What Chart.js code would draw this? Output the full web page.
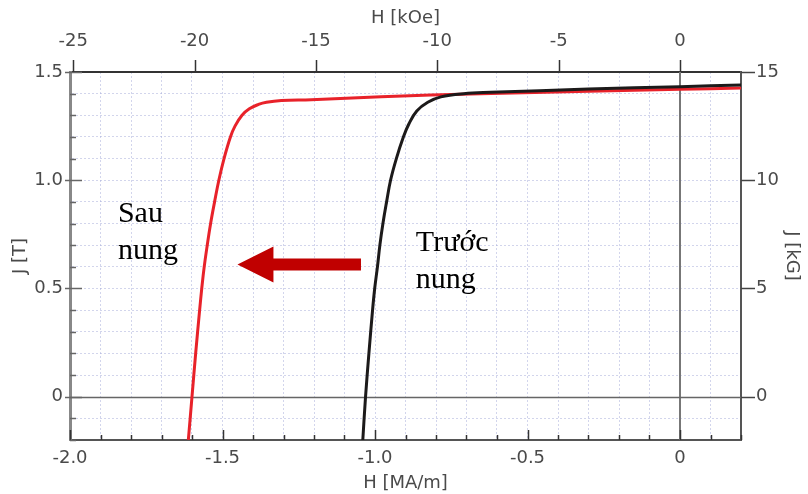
<!DOCTYPE html>
<html><head><meta charset="utf-8">
<script src="https://cdn.jsdelivr.net/npm/chart.js@4"></script>
<style>html,body{margin:0;padding:0;background:#fff}#wrap{width:808px;height:494px}</style>
</head><body><div id="wrap"><canvas id="c" width="808" height="494"></canvas></div>
<script>
// ---- data (H in MA/m, J in T) ----
const hAfter  = [-1.612,-1.600,-1.588,-1.575,-1.568,-1.560,-1.550,-1.539,-1.526,-1.512,-1.495,-1.474,-1.459,-1.436,-1.412,-1.382,-1.356,-1.307,-1.209,-0.980,-0.654,-0.300,0.000,0.200];
const jAfter  = [-0.200, 0.000, 0.200, 0.400, 0.500, 0.600, 0.700, 0.800, 0.900, 1.000, 1.100, 1.200, 1.250, 1.300, 1.330, 1.350, 1.360, 1.368, 1.372, 1.386, 1.400, 1.411,1.420,1.426];
const hBefore = [-1.040,-1.031,-1.020,-1.008,-1.001,-0.992,-0.984,-0.974,-0.962,-0.949,-0.930,-0.907,-0.889,-0.863,-0.827,-0.784,-0.709,-0.621,-0.300,0.000,0.200];
const jBefore = [-0.200, 0.000, 0.200, 0.400, 0.500, 0.600, 0.700, 0.800, 0.900, 1.000, 1.100, 1.200, 1.260, 1.320, 1.360, 1.385, 1.400, 1.406, 1.421,1.432,1.440];
const seriesNames = ['Sau nung','Trước nung'];

const hTickValues = [-2.0,-1.5,-1.0,-0.5,0];
const hTickLabels = ['-2.0','-1.5','-1.0','-0.5','0'];
const kOeTickValues = [-25,-20,-15,-10,-5,0];
const kOeTickLabels = ['-25','-20','-15','-10','-5','0'];
const jTickValues = [0,0.5,1.0,1.5];
const jTickLabels = ['0','0.5','1.0','1.5'];
const kGTickValues = [0,5,10,15];
const kGTickLabels = ['0','5','10','15'];

// annotation anchors (data coordinates)
const arrowTail = {h:-1.046, j:0.611};
const arrowTip  = {h:-1.451, j:0.611};
const notes = [
  {lines:['Sau','nung'],   h:-1.843, j:0.806},
  {lines:['Trước','nung'], h:-0.866, j:0.672}
];

const KOE_PER_MAM = 4*Math.PI;   // 1 MA/m = 4π kOe
const KG_PER_T = 10;

const labelFont = {family:'"DejaVu Sans", Verdana, sans-serif', size:18};
const textColor = '#4a4a4a';
const gridColor = 'rgba(165,172,218,0.5)';

function pick(values, labels){
  return v => { for (let i=0;i<values.length;i++) if (Math.abs(v-values[i])<1e-6) return labels[i]; return ''; };
}
const toPts = (hs, js) => hs.map((h,i)=>({x:h, y:js[i]}));

const decor = {
  id:'decor',
  beforeDatasetsDraw(chart){
    const {ctx, chartArea:a, scales:{x,y}} = chart;
    ctx.save();
    const x0 = Math.round(x.getPixelForValue(0));
    ctx.strokeStyle='#777'; ctx.lineWidth=2;
    ctx.beginPath(); ctx.moveTo(x0,a.top); ctx.lineTo(x0,a.bottom); ctx.stroke();
    const y0 = Math.round(y.getPixelForValue(0))+0.5;
    ctx.strokeStyle='#666'; ctx.lineWidth=1.5;
    ctx.beginPath(); ctx.moveTo(a.left,y0); ctx.lineTo(a.right,y0); ctx.stroke();
    ctx.restore();
  },
  afterDraw(chart){
    const {ctx, chartArea:a, scales:{x,x2,y,y2}} = chart;
    ctx.save();
    ctx.lineWidth=1.5;
    ctx.strokeStyle='#333';
    x.ticks.forEach(t=>{
      const px = Math.round(x.getPixelForValue(t.value))+0.5;
      const major = Math.abs(t.value*2-Math.round(t.value*2))<1e-6;
      ctx.beginPath(); ctx.moveTo(px,a.bottom); ctx.lineTo(px,a.bottom-(major?10:5)); ctx.stroke();
    });
    ctx.strokeStyle='#666';
    y.ticks.forEach(t=>{
      const py = Math.round(y.getPixelForValue(t.value))+0.5;
      const major = Math.abs(t.value*2-Math.round(t.value*2))<1e-6;
      ctx.beginPath();
      if (major){ ctx.moveTo(a.left-5,py); ctx.lineTo(a.left+12,py); }
      else { ctx.moveTo(a.left,py); ctx.lineTo(a.left+6,py); }
      ctx.stroke();
    });
    ctx.strokeStyle='#333';
    x2.ticks.forEach(t=>{
      const px = Math.round(x2.getPixelForValue(t.value))+0.5;
      ctx.beginPath(); ctx.moveTo(px,a.top); ctx.lineTo(px,a.top-12); ctx.stroke();
    });
    ctx.strokeStyle='#444';
    y2.ticks.forEach(t=>{
      const py = Math.round(y2.getPixelForValue(t.value))+0.5;
      ctx.beginPath(); ctx.moveTo(a.right,py); ctx.lineTo(a.right+14,py); ctx.stroke();
    });
    const tx = x.getPixelForValue(arrowTail.h), ty = y.getPixelForValue(arrowTail.j);
    const hx = x.getPixelForValue(arrowTip.h),  hy = y.getPixelForValue(arrowTip.j);
    const headLen = 36, headHalf = 18, shaftHalf = 6;
    ctx.fillStyle='#c00000';
    ctx.beginPath();
    ctx.moveTo(tx, ty-shaftHalf);
    ctx.lineTo(hx+headLen, hy-shaftHalf);
    ctx.lineTo(hx+headLen, hy-headHalf);
    ctx.lineTo(hx, hy);
    ctx.lineTo(hx+headLen, hy+headHalf);
    ctx.lineTo(hx+headLen, hy+shaftHalf);
    ctx.lineTo(tx, ty+shaftHalf);
    ctx.closePath(); ctx.fill();
    ctx.fillStyle='#000';
    ctx.font='30px "Liberation Serif", "Times New Roman", serif';
    ctx.textAlign='left'; ctx.textBaseline='alphabetic';
    notes.forEach(n=>{
      const px = x.getPixelForValue(n.h), py = y.getPixelForValue(n.j);
      n.lines.forEach((l,i)=>ctx.fillText(l, px, py+i*37));
    });
    ctx.restore();
  }
};

new Chart(document.getElementById('c'), {
  type:'scatter',
  data:{ datasets:[
    {label:seriesNames[1], data:toPts(hBefore,jBefore), showLine:true, borderColor:'#1c1a1a', borderWidth:3, pointRadius:0, tension:0.4, xAxisID:'x', yAxisID:'y'},
    {label:seriesNames[0], data:toPts(hAfter,jAfter), showLine:true, borderColor:'#e8222a', borderWidth:3, pointRadius:0, tension:0.4, xAxisID:'x', yAxisID:'y'}
  ]},
  options:{
    responsive:false, animation:false, devicePixelRatio:1,
    layout:{padding:0},
    plugins:{legend:{display:false}, tooltip:{enabled:false}},
    scales:{
      x:{type:'linear', position:'bottom', min:-2.0, max:0.2,
        ticks:{stepSize:0.1, includeBounds:false, autoSkip:false, maxRotation:0, minRotation:0, font:labelFont, color:textColor, padding:8, callback:pick(hTickValues,hTickLabels)},
        grid:{color:c=>Math.abs(c.tick.value)<1e-6?'rgba(0,0,0,0)':gridColor, lineWidth:1, drawTicks:false},
        border:{display:true, color:'#555', width:2, dash:[2,2]},
        title:{display:true, text:'H [MA/m]', font:labelFont, color:textColor, padding:{top:0,bottom:0}},
        afterFit:s=>{s.height=54;}
      },
      x2:{type:'linear', position:'top', min:-2.0*KOE_PER_MAM, max:0.2*KOE_PER_MAM,
        ticks:{stepSize:5, includeBounds:false, autoSkip:false, maxRotation:0, minRotation:0, font:labelFont, color:textColor, padding:20, callback:pick(kOeTickValues,kOeTickLabels)},
        grid:{drawOnChartArea:false, drawTicks:false},
        border:{display:true, color:'#333', width:2},
        title:{display:true, text:'H [kOe]', font:labelFont, color:textColor, padding:{top:8,bottom:0}},
        afterFit:s=>{s.height=72;}
      },
      y:{type:'linear', position:'left', min:-0.2, max:1.5,
        ticks:{stepSize:0.1, includeBounds:false, autoSkip:false, font:labelFont, color:textColor, padding:7, callback:pick(jTickValues,jTickLabels)},
        grid:{color:c=>Math.abs(c.tick.value)<1e-6?'rgba(0,0,0,0)':gridColor, lineWidth:1, drawTicks:false},
        border:{display:true, color:'#888', width:3, dash:[2,2]},
        title:{display:true, text:'J [T]', font:labelFont, color:textColor, padding:{top:10,bottom:0}},
        afterFit:s=>{s.width=70;}
      },
      y2:{type:'linear', position:'right', min:-0.2*KG_PER_T, max:1.5*KG_PER_T,
        ticks:{stepSize:5, includeBounds:false, autoSkip:false, font:labelFont, color:textColor, padding:15, callback:pick(kGTickValues,kGTickLabels)},
        grid:{drawOnChartArea:false, drawTicks:false},
        border:{display:true, color:'#555', width:2},
        title:{display:true, text:'J [kG]', font:labelFont, color:textColor, padding:{top:6,bottom:0}},
        afterFit:s=>{s.width=67;}
      }
    }
  },
  plugins:[decor]
});
</script>
</body></html>
